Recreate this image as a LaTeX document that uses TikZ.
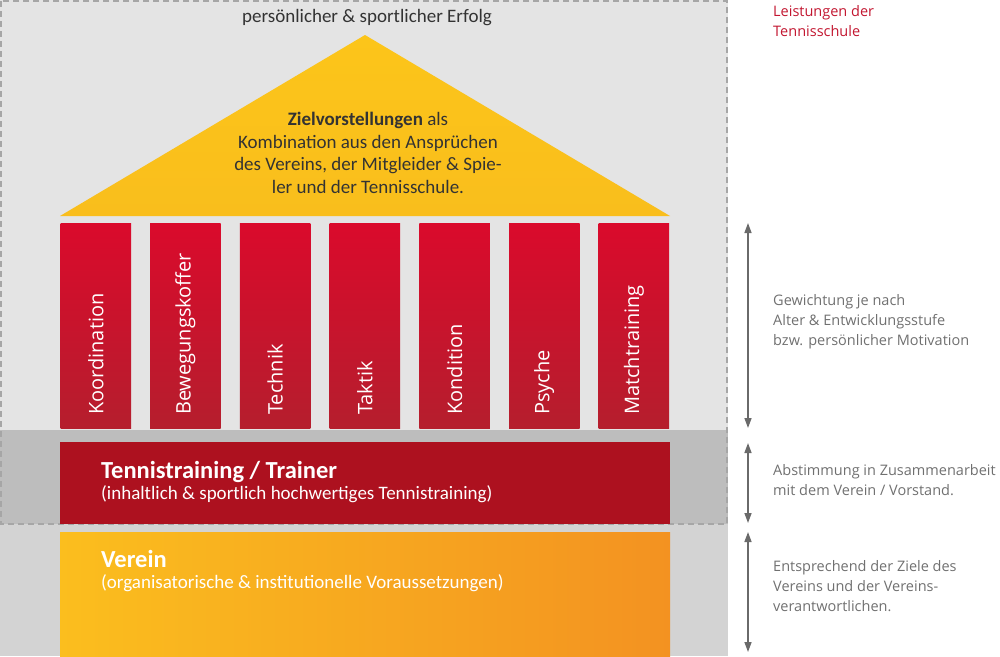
\documentclass[tikz,border=0pt]{standalone}
\usepackage{fontspec}
\setmainfont{Open Sans}
\newfontfamily\narrowfont{Carlito}
\usetikzlibrary{positioning,arrows.meta}
\definecolor{panel}{HTML}{E4E4E4}
\definecolor{band}{HTML}{BDBDBD}
\definecolor{ground}{HTML}{D3D3D3}
\definecolor{frame}{HTML}{A6A6A6}
\definecolor{rooftop}{HTML}{FCC51A}
\definecolor{roofbot}{HTML}{F9BE1C}
\definecolor{pillartop}{HTML}{DA0A2C}
\definecolor{pillarbot}{HTML}{B51E2D}
\definecolor{trainer}{HTML}{AD111F}
\definecolor{clubleft}{HTML}{FBBE1E}
\definecolor{clubright}{HTML}{F39221}
\definecolor{note}{HTML}{707070}
\definecolor{accent}{HTML}{C21630}
\definecolor{marker}{HTML}{6A6A6A}
\definecolor{ink}{HTML}{333333}

\begin{document}
\begin{tikzpicture}[
    x=1pt, y=-1pt,
    node distance=19.2pt,
    pillar/.style={
        rectangle,
        inner sep=0pt,
        outer sep=0pt,
        minimum width=70.5pt,
        minimum height=205pt,
        top color=pillartop,
        bottom color=pillarbot
    },
    pillartext/.style={
        rotate=90,
        anchor=west,
        inner sep=0pt,
        text=white,
        font=\fontsize{20}{24}\selectfont
    },
    layer/.style={
        rectangle,
        anchor=north west,
        inner sep=0pt,
        outer sep=0pt,
        minimum width=610pt
    },
    boxtitle/.style={
        anchor=base west,
        inner sep=0pt,
        text=white,
        font=\narrowfont\fontsize{24.5}{28}\selectfont\bfseries
    },
    boxsub/.style={
        anchor=base west,
        inner sep=0pt,
        text=white,
        font=\narrowfont\fontsize{19}{23}\selectfont
    },
    note/.style={
        anchor=west,
        align=left,
        inner sep=0pt,
        text=note,
        font=\fontsize{14.5}{20}\selectfont
    },
    gauge/.style={
        {Triangle[width=7pt,length=10pt]}-{Triangle[width=7pt,length=10pt]},
        line width=1.4pt,
        draw=marker
    }
]
\useasboundingbox (0,0) rectangle (1000,656);

% background
\fill[panel] (0,0) rectangle (728,430);
\fill[band] (0,430) rectangle (728,524);
\fill[ground] (0,524) rectangle (728,656);
\draw[frame, line width=1.5pt, dash pattern=on 6pt off 4pt] (1,1) rectangle (727,524);

% roof
\coordinate (apex) at (365,35);
\coordinate (eaveR) at (670,216);
\coordinate (eaveL) at (60,216);
\shade[top color=rooftop, bottom color=roofbot] (apex) -- (eaveR) -- (eaveL) -- cycle;
\node[text=ink, font=\narrowfont\fontsize{19}{22}\selectfont] (goal) at (367,18) {persönlicher \& sportlicher Erfolg};
\node[align=center, text=ink, font=\narrowfont\fontsize{19}{22.5}\selectfont] (aims) at (368,153)
    {\textbf{Zielvorstellungen} als\\Kombination aus den Ansprüchen\\des Vereins, der Mitgleider \& Spie-\\ler und der Tennisschule.};

% pillars
\node[pillar] (p1) at (95.75,325.5) {};
\node[pillar, right=of p1] (p2) {};
\node[pillar, right=of p2] (p3) {};
\node[pillar, right=of p3] (p4) {};
\node[pillar, right=of p4] (p5) {};
\node[pillar, right=of p5] (p6) {};
\node[pillar, right=of p6] (p7) {};

\node[pillartext] at ([yshift=13pt]p1.south) {Koordination};
\node[pillartext] at ([yshift=13pt]p2.south) {Bewegungskoffer};
\node[pillartext] at ([yshift=13pt]p3.south) {Technik};
\node[pillartext] at ([yshift=13pt]p4.south) {Taktik};
\node[pillartext] at ([yshift=13pt]p5.south) {Kondition};
\node[pillartext] at ([yshift=13pt]p6.south) {Psyche};
\node[pillartext] at ([yshift=13pt]p7.south) {Matchtraining};

% foundations
\node[layer, minimum height=82pt, fill=trainer] (trainer) at (60,442) {};
\node[layer, minimum height=124pt, left color=clubleft, right color=clubright] (club) at (60,532) {};

\node[boxtitle] (trainertitle) at (101,478) {Tennistraining / Trainer};
\node[boxsub] (trainersub) at (101,499) {(inhaltlich \& sportlich hochwertiges Tennistraining)};
\node[boxtitle] (clubtitle) at (101,567) {Verein};
\node[boxsub] (clubsub) at (101,588) {(organisatorische \& institutionelle Voraussetzungen)};

% notes on the right
\node[note, text=accent] (services) at (773,21.5) {Leistungen der\\Tennisschule};
\node[note] (weighting) at (773,322) {Gewichtung je nach\\Alter \& Entwicklungsstufe\\bzw. persönlicher Motivation};
\node[note] (agreement) at (773,480) {Abstimmung in Zusammenarbeit\\mit dem Verein / Vorstand.};
\node[note] (goals) at (773,586) {Entsprechend der Ziele des\\Vereins und der Vereins-\\verantwortlichen.};

\coordinate (g1a) at (748,223);
\coordinate (g1b) at (748,428);
\coordinate (g2a) at (748,443);
\coordinate (g2b) at (748,523);
\coordinate (g3a) at (748,532);
\coordinate (g3b) at (748,652);
\draw[gauge] (g1a) -- (g1b);
\draw[gauge] (g2a) -- (g2b);
\draw[gauge] (g3a) -- (g3b);

\end{tikzpicture}
\end{document}
